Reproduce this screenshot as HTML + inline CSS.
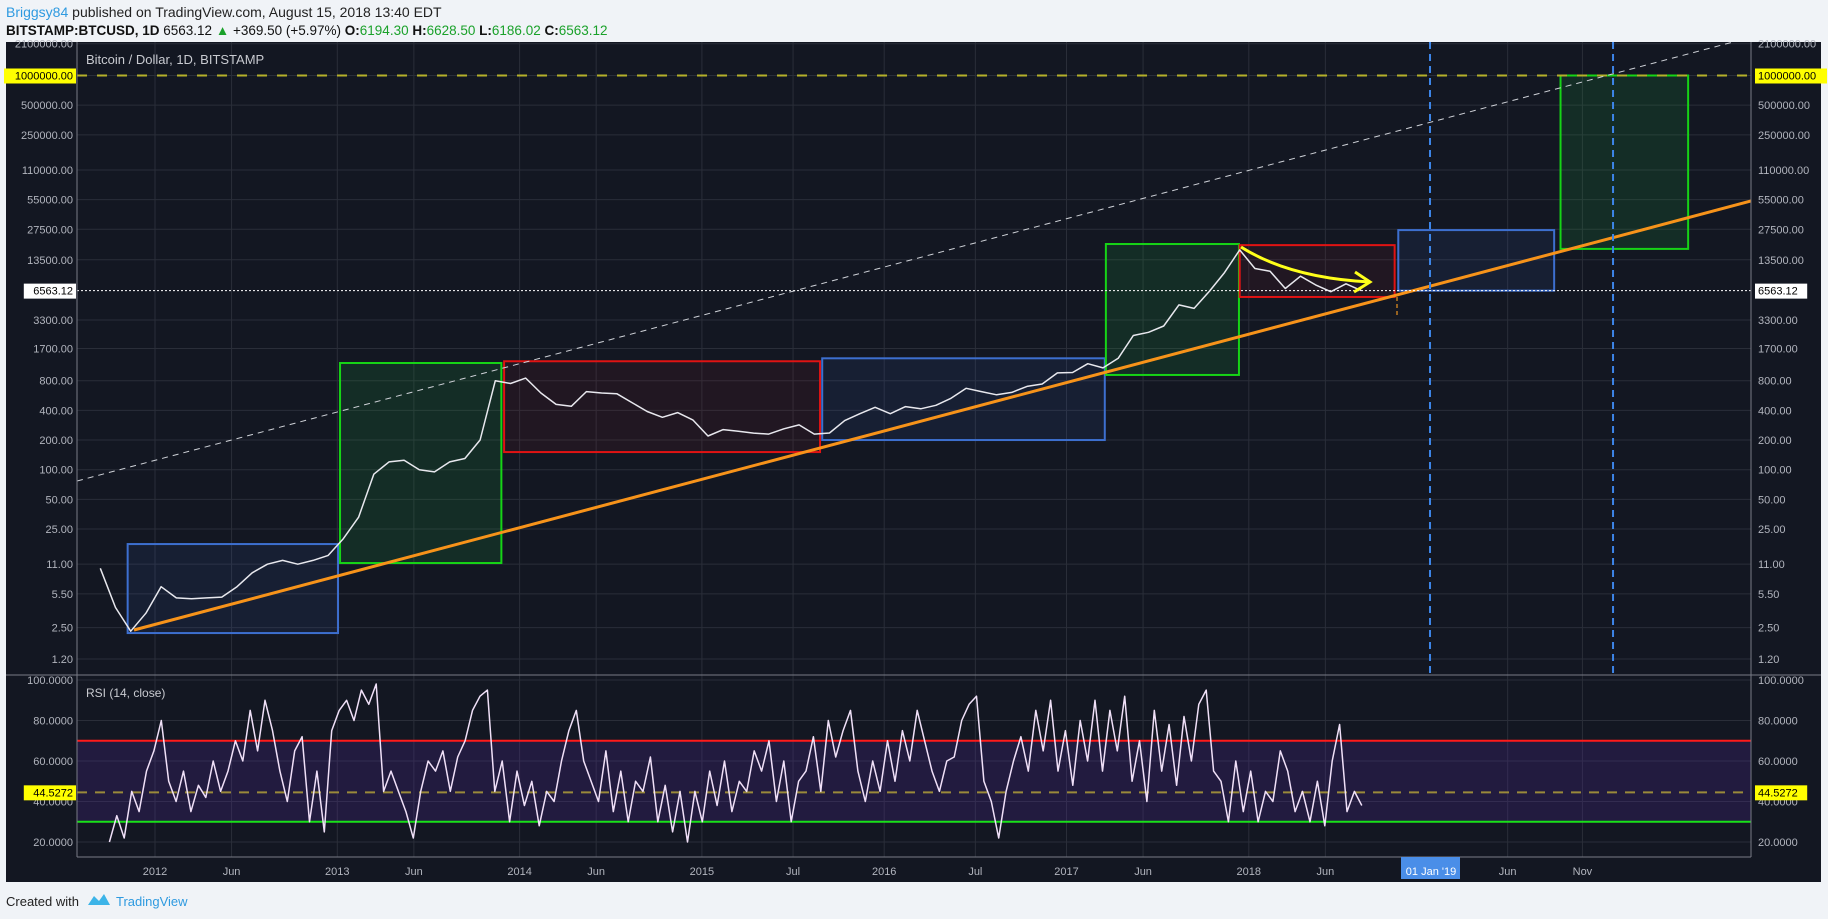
<!DOCTYPE html>
<html><head><meta charset="utf-8">
<style>
html,body{margin:0;padding:0;background:#f0f3f7;width:1828px;height:919px;overflow:hidden;font-family:"Liberation Sans",sans-serif;}
svg text{font-family:"Liberation Sans",sans-serif;}
</style></head>
<body>
<svg id="c" width="1828" height="919" xmlns="http://www.w3.org/2000/svg">
<text x="6" y="17" font-size="14"><tspan fill="#2e9ae0">Briggsy84</tspan><tspan fill="#222"> published on TradingView.com, August 15, 2018 13:40 EDT</tspan></text>
<text x="6" y="35" font-size="13.5" fill="#111"><tspan font-weight="bold">BITSTAMP:BTCUSD, 1D</tspan><tspan> 6563.12 </tspan><tspan fill="#1aa12a">▲</tspan><tspan> +369.50 (+5.97%) </tspan><tspan font-weight="bold">O:</tspan><tspan fill="#1aa12a">6194.30 </tspan><tspan font-weight="bold">H:</tspan><tspan fill="#1aa12a">6628.50 </tspan><tspan font-weight="bold">L:</tspan><tspan fill="#1aa12a">6186.02 </tspan><tspan font-weight="bold">C:</tspan><tspan fill="#1aa12a">6563.12</tspan></text>
<rect x="6" y="42" width="1815" height="840" fill="#131722"/>
<g id="grid"></g>
<g id="main" clip-path="url(#cm)"></g>
<g id="rsi" clip-path="url(#cr)"></g>
<g id="axes"></g>
<defs>
<clipPath id="cm"><rect x="77" y="42" width="1674" height="633"/></clipPath>
<clipPath id="cr"><rect x="77" y="675" width="1674" height="182"/></clipPath>
</defs>
<text x="6" y="906" font-size="13" fill="#222">Created with</text>
<path d="M88 905 l6 -9 l5 5 l5 -7 l6 11 z" fill="#3cb4e8"/>
<text x="116" y="906" font-size="13" fill="#2e9ae0">TradingView</text>
</svg>
<script>
const priceStart = 2011.70;
const prices = [10,4,2.3,3.5,
6.5,5,4.9,5,5.1,6.5,9,11,12,11,12,13.5,
20,33,90,120,125,100,95,120,130,200,800,750,
850,600,460,440,620,600,590,480,390,340,380,320,
220,255,245,235,230,260,285,230,236,315,370,430,
370,437,415,450,530,670,620,575,608,700,740,960,
970,1190,1080,1350,2300,2480,2870,4700,4330,6450,10000,17000,
11000,10300,6900,9200,7500,6400,7700,6563];
const rsiStart = 2011.75, rsiEnd = 2018.62;
const rsiValues = [20,33,22,45,35,55,
65,80,50,40,55,35,48,42,60,45,55,70,60,85,65,90,75,55,40,65,72,30,55,25,
75,85,90,80,95,88,98,45,55,45,35,22,45,60,55,65,45,62,70,85,92,95,45,60,
30,55,38,50,28,45,40,60,75,85,60,50,40,65,35,55,30,50,45,62,30,48,25,45,
20,45,30,55,38,60,35,50,45,65,55,70,40,60,30,50,55,72,45,80,62,75,85,55,
40,60,45,70,50,75,60,85,70,55,45,60,62,80,88,92,50,40,22,45,60,72,55,85,
65,90,55,75,48,80,60,90,55,85,65,92,50,70,40,85,55,78,48,82,60,88,95,55,
50,30,60,35,55,30,45,40,65,55,35,45,30,50,28,60,78,35,45,38];
const priceTicks = [2100000,1000000,500000,250000,110000,55000,27500,13500,3300,1700,800,400,200,100,50,25,11,5.5,2.5,1.2];
const rsiTicks = [100,80,60,40,20];
const timeLabels = ["2012","Jun","2013","Jun","2014","Jun","2015","Jul","2016","Jul","2017","Jun","2018","Jun","Jun","Nov"];
const timeValues = [2012,2012.42,2013,2013.42,2014,2014.42,2015,2015.5,2016,2016.5,2017,2017.42,2018,2018.42,2019.42,2019.83];
const boxStart = [2011.85,2013.015,2013.915,2015.66,2017.216,2017.95,2018.82,2019.71];
const boxEnd = [2013.004,2013.90,2015.648,2017.21,2017.946,2018.80,2019.675,2020.41];
const boxLow = [2.2,11.3,151,200,915,5660,6560,17400];
const boxHigh = [17.6,1210,1260,1350,19500,19000,27000,1000000];
const boxKind = ["blue","green","red","blue","green","red","blue","green"];
const markerDates = [2018.994,2019.998];

const NS="http://www.w3.org/2000/svg";
const X = t => 155 + (t-2012)*182.3;
const Y = v => 659 - 42.8*Math.log(v/1.2);
const YR = v => 842 - (v-20)*2.025;
function mk(parent, tag, attrs){const e=document.createElementNS(NS,tag);for(const k in attrs)e.setAttribute(k,attrs[k]);document.getElementById(parent).appendChild(e);return e;}

timeValues.forEach(t=>{const g=mk('grid','line',{x1:X(t),x2:X(t),y1:42,y2:857,stroke:'#2a2e39','stroke-width':1});

});
priceTicks.forEach(v=>{const g=mk('grid','line',{x1:77,x2:1751,y1:Y(v),y2:Y(v),stroke:'#2a2e39','stroke-width':1});

});
rsiTicks.forEach(v=>{const g=mk('grid','line',{x1:77,x2:1751,y1:YR(v),y2:YR(v),stroke:'#2a2e39','stroke-width':1});

});

const colors={blue:['#3d6fcf','rgba(60,90,180,0.12)'],green:['#16d416','rgba(30,160,60,0.16)'],red:['#e01313','rgba(160,30,40,0.10)']};
boxEnd.forEach((t1,i)=>{const t0=boxStart[i];const c=colors[boxKind[i]];
const r=mk('main','rect',{x:X(t0),y:Y(boxHigh[i]),width:X(t1)-X(t0),height:Y(boxLow[i])-Y(boxHigh[i]),fill:c[1],stroke:c[0],'stroke-width':2});

});

let e;
e=mk('main','line',{x1:77,x2:1751,y1:Y(1000000),y2:Y(1000000),stroke:'#b5b02a','stroke-width':2,'stroke-dasharray':'10 10'});


e=mk('main','line',{x1:77,y1:481,x2:1737,y2:41,stroke:'#cfd2d8','stroke-width':1,'stroke-dasharray':'6 5'});


e=mk('main','line',{x1:134,y1:630,x2:1751,y2:201,stroke:'#f7931a','stroke-width':3});


markerDates.forEach(t=>{const l=mk('main','line',{x1:X(t),x2:X(t),y1:42,y2:675,stroke:'#3d85e8','stroke-width':2,'stroke-dasharray':'7 5'});

});
e=mk('main','line',{x1:1397,x2:1397,y1:297,y2:316,stroke:'#c07a20','stroke-width':1.5,'stroke-dasharray':'4 3'});


e=mk('main','line',{x1:77,x2:1751,y1:Y(6563.12),y2:Y(6563.12),stroke:'#ffffff','stroke-width':1,'stroke-dasharray':'2 2'});



let d='';prices.forEach((p,i)=>{d+=(i?'L':'M')+X(priceStart+i/12).toFixed(1)+' '+Y(p).toFixed(1);});
e=mk('main','path',{d:d,fill:'none',stroke:'#e8e8ee','stroke-width':1.5,'stroke-linejoin':'round'});



e=mk('main','path',{d:'M1241 247 Q1290 278 1370 282',fill:'none',stroke:'#ffff1a','stroke-width':3});


e=mk('main','path',{d:'M1355 272 L1370 282 L1354 292',fill:'none',stroke:'#ffff1a','stroke-width':3});



e=mk('main','text',{x:86,y:64,'font-size':13,fill:'#c8cad0'});e.textContent='Bitcoin / Dollar, 1D, BITSTAMP';



e=mk('rsi','rect',{x:77,y:YR(70),width:1674,height:YR(30)-YR(70),fill:'rgba(80,40,150,0.25)'});


e=mk('rsi','line',{x1:77,x2:1751,y1:YR(70),y2:YR(70),stroke:'#ff1a1a','stroke-width':2});


e=mk('rsi','line',{x1:77,x2:1751,y1:YR(30),y2:YR(30),stroke:'#19e019','stroke-width':2});


e=mk('rsi','line',{x1:77,x2:1751,y1:YR(44.5272),y2:YR(44.5272),stroke:'#9a8a3a','stroke-width':2,'stroke-dasharray':'10 8'});


d='';const n=rsiValues.length;rsiValues.forEach((v,i)=>{d+=(i?'L':'M')+X(rsiStart+(rsiEnd-rsiStart)*i/(n-1)).toFixed(1)+' '+YR(v).toFixed(1);});
e=mk('rsi','path',{d:d,fill:'none',stroke:'#f0e0f8','stroke-width':1.5,'stroke-linejoin':'round'});


e=mk('rsi','text',{x:86,y:697,'font-size':12,fill:'#c8cad0'});e.textContent='RSI (14, close)';



[[77,42,77,857],[1751,42,1751,857],[6,675,1821,675],[77,857,1751,857]].forEach(a=>{const l=mk('axes','line',{x1:a[0],y1:a[1],x2:a[2],y2:a[3],stroke:'#787b86','stroke-width':1});

});
function label(x,y,txt,anchor,name,bg,fg){
 if(bg){const w=txt.length*6.6+6;const r=mk('axes','rect',{x:anchor==='end'?x-w+3:x-3,y:y-11,width:w,height:15,fill:bg});
 
 }
 const t=mk('axes','text',{x:x,y:y,'font-size':11,fill:fg||'#b2b5be','text-anchor':anchor});t.textContent=txt;
 
 }
priceTicks.forEach(v=>{const s=v.toFixed(2);
 const hl=v===1000000;
 label(73,Y(v)+4,s,'end','left-price-tick',hl?'#ffff00':null,hl?'#000':null);
 label(1758,Y(v)+4,s,'start','right-price-tick',hl?'#ffff00':null,hl?'#000':null);});
label(73,Y(6563.12)+4,'6563.12','end','left-last-price','#ffffff','#000');
label(1758,Y(6563.12)+4,'6563.12','start','right-last-price','#ffffff','#000');
rsiTicks.forEach(v=>{label(73,YR(v)+4,v.toFixed(4),'end','left-rsi-tick');label(1758,YR(v)+4,v.toFixed(4),'start','right-rsi-tick');});
label(73,YR(44.5272)+4,'44.5272','end','left-rsi-value','#ffff00','#000');
label(1758,YR(44.5272)+4,'44.5272','start','right-rsi-value','#ffff00','#000');
timeValues.forEach((t,i)=>{label(X(t),875,timeLabels[i],'middle','time-tick');});
e=mk('axes','rect',{x:1401,y:857,width:59,height:22,fill:'#4a8ee8'});


label(1431,875,"01 Jan '19",'middle','crosshair-date-label',null,'#ffffff');
</script>
</body></html>
